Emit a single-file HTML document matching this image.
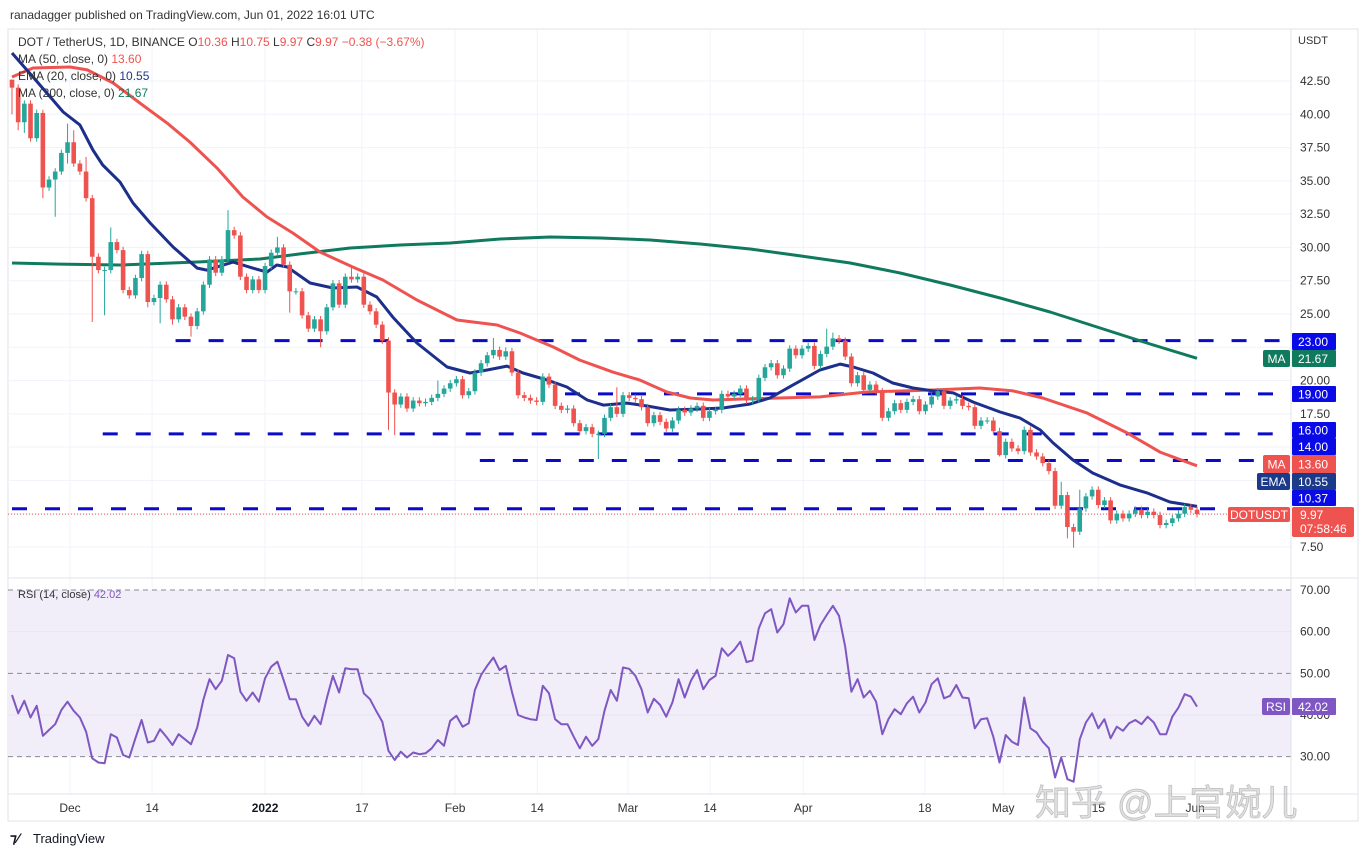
<!DOCTYPE html>
<html><head><meta charset="utf-8"><style>
html,body{margin:0;padding:0;background:#fff;}
svg{display:block;font-family:"Liberation Sans","Noto Sans CJK SC",sans-serif;}
</style></head><body>
<svg id="chart" xmlns="http://www.w3.org/2000/svg" width="1369" height="857" viewBox="0 0 1369 857">
<rect x="0" y="0" width="1369" height="857" fill="#ffffff"/>
<text x="10" y="19" font-size="12" fill="#333">ranadagger published on TradingView.com, Jun 01, 2022 16:01 UTC</text>
<rect x="8" y="29" width="1350" height="792" fill="none" stroke="#e0e3eb"/>
<rect x="8" y="578" width="1283" height="212" fill="none"/>
<g id="grid"></g>
<g id="rsiG"></g>
<g id="levels"></g>
<g id="mas"></g>
<g id="candles"></g>
<g id="axis"></g>
<line x1="8" y1="578" x2="1358" y2="578" stroke="#e0e3eb"/>
<line x1="8" y1="794" x2="1358" y2="794" stroke="#e0e3eb"/>
<line x1="1291" y1="29" x2="1291" y2="821" stroke="#e0e3eb"/>
<g id="timeAxis"></g>
<g font-size="12">
<text x="18" y="46" fill="#333">DOT / TetherUS, 1D, BINANCE  <tspan fill="#333">O</tspan><tspan fill="#ef5350">10.36</tspan>  <tspan fill="#333">H</tspan><tspan fill="#ef5350">10.75</tspan>  <tspan fill="#333">L</tspan><tspan fill="#ef5350">9.97</tspan>  <tspan fill="#333">C</tspan><tspan fill="#ef5350">9.97  −0.38 (−3.67%)</tspan></text>
<text x="18" y="63" fill="#333">MA (50, close, 0)  <tspan fill="#ef5350">13.60</tspan></text>
<text x="18" y="80" fill="#333">EMA (20, close, 0)  <tspan fill="#1c3a8a">10.55</tspan></text>
<text x="18" y="97" fill="#333">MA (200, close, 0)  <tspan fill="#107a5e">21.67</tspan></text>
<text x="18" y="598" fill="#333" font-size="11">RSI (14, close)  <tspan fill="#7e57c2">42.02</tspan></text>
</g>
<text x="1298" y="44" font-size="11" fill="#333">USDT</text>
<text x="1035" y="815" font-size="36" fill="rgba(200,200,200,0.55)" stroke="rgba(120,120,120,0.4)" stroke-width="0.8">知乎 @上官婉儿</text>
<g>
<text x="10" y="843" font-size="14" font-weight="bold" fill="#131722">⁊⁄</text>
<text x="33" y="843" font-size="13" fill="#131722">TradingView</text>
</g>
</svg>
<script>
const closes=[42.0,39.4,40.8,38.2,40.1,34.5,35.1,35.7,37.1,37.9,
36.3,35.7,33.7,29.3,28.3,28.3,30.4,29.8,26.8,26.4,
27.7,29.5,25.9,26.2,27.2,26.1,24.6,25.5,24.8,24.1,
25.2,27.2,29.1,28.1,29.1,31.3,30.9,27.8,26.8,27.6,
26.8,28.6,29.6,30.0,28.7,26.7,26.7,24.9,23.9,24.6,
23.7,25.5,27.3,25.7,27.8,27.6,27.8,25.7,25.2,24.2,
23.0,
19.1,18.2,18.8,17.9,18.5,18.3,18.4,18.7,19.0,19.4,
19.8,20.1,18.9,19.2,20.6,21.3,21.9,22.3,21.8,22.2,
20.6,18.9,18.7,18.5,18.4,20.3,19.7,18.1,17.8,17.9,
16.8,16.2,16.5,16.0,16.0,17.2,18.0,17.5,18.9,18.7,
18.6,18.0,16.8,17.4,16.9,16.4,17.0,
17.8,17.6,17.9,18.1,17.2,17.7,17.8,19.0,18.8,19.0,19.4,18.5,18.6,20.2,21.0,21.3,20.4,20.9,22.4,21.9,22.4,22.6,21.1,22.0,
22.55,23.17,23.0,21.8,19.8,20.4,19.3,19.7,19.2,17.2,
17.7,18.3,17.8,18.4,18.6,17.7,18.2,18.8,19.2,18.1,
18.5,18.6,18.1,18.0,16.6,17.0,17.0,16.2,14.4,15.4,
14.9,14.7,16.3,14.6,14.3,13.8,13.2,10.6,11.4,9.0,
8.65,10.4,11.3,11.8,10.65,11.0,9.5,10.0,9.65,10.0,
10.3,9.9,10.15,9.9,9.15,9.3,9.65,10.0,10.5,10.3,
9.97];
const firstOpen=42.6;
const wickIdx=[0,1,2,5,7,9,10,12,13,15,16,22,24,26,29,35,43,45,50,55,61,62,69,78,80,95,98,132,133,160,170,171,172,173];
const wickHigh=[42.6,null,null,null,null,39.3,38.8,36.8,null,null,31.5,null,null,null,null,32.8,30.8,null,null,28.5,null,null,20.0,23.2,22.5,null,19.5,23.9,23.6,null,12.4,null,null,11.8];
const wickLow=[40.0,38.8,38.6,33.7,32.3,36.3,null,null,24.4,24.9,null,25.5,24.3,24.2,23.3,null,null,25.1,22.5,null,16.3,15.9,null,null,null,14.1,null,null,null,14.3,null,8.15,7.45,null];
const ema20Idx=[0,3.4,6.2,8.3,11,13.1,14.7,17.5,19.6,22.4,26.1,30,31.6,35.8,39,41.3,42.9,44.6,48.3,52,55.9,59.1,61.7,65.6,70.5,74.2,77,80.2,82.8,86.7,89.9,93.2,95.8,99.6,102.9,106.6,111,115.2,119.6,122.8,126.5,130.9,134.2,136.3,139.5,142.7,146,149.2,152.5,155.7,160.1,163.3,166.6,168.7,171.9,175.1,179.5,183.9,187.6,192];
const ema20Val=[44.6,42.8,41.3,40.17,39.2,37.32,36.19,34.91,33.34,31.83,30.03,28.45,28.3,28.9,28.45,28.15,28.68,28.53,27.33,26.95,27.03,26.28,24.77,22.82,21.02,20.57,20.79,21.09,20.57,20.04,19.52,18.54,18.16,18.31,18.09,17.79,17.86,17.94,18.24,18.69,19.66,20.79,21.24,21.02,20.57,19.82,19.44,19.22,19.07,18.39,17.64,17.19,16.29,15.31,14.03,13.06,12.16,11.56,10.88,10.55];
const ma50Idx=[0,3.4,9.4,12.2,16.4,20.7,25.1,28.8,33.2,37.4,41.3,45.5,49.9,55.2,60.1,65.6,72.1,78.6,82.3,87.7,92,97.4,101.7,106.1,109.9,113.6,119.1,124.4,130.9,138.5,149.2,156.8,162.2,167,174.2,180.7,186,192];
const ma50Val=[42.8,43.48,43.55,43.33,42.35,40.85,39.35,37.92,35.97,33.79,32.29,31.08,29.66,28.53,27.55,26.05,24.55,24.17,23.57,22.52,21.54,20.63,20.04,19.14,18.69,18.54,18.62,18.69,18.77,19.14,19.29,19.44,19.22,18.69,17.56,16.06,14.63,13.6];
const ma200Idx=[0,7.8,17.5,30.5,40.2,46.7,54.8,62.9,71,79.1,87.2,95.3,103.4,111.5,119.6,127.7,135.8,143.9,152,160.1,168.2,176.3,184.4,192];
const ma200Val=[28.83,28.75,28.68,28.91,29.13,29.51,29.96,30.18,30.33,30.63,30.78,30.71,30.56,30.26,29.88,29.36,28.83,28.08,27.18,26.2,25.15,23.95,22.75,21.67];
const rsiVals=[44.8,40.4,43.4,39.4,42.2,35.0,36.4,37.8,41.2,43.2,
41.0,39.4,36.0,29.6,28.6,28.4,35.4,34.6,30.4,29.8,
34.4,38.8,33.4,33.8,36.6,34.8,32.8,35.4,34.2,33.0,
37.0,43.6,48.6,46.2,48.2,54.4,53.6,45.6,43.4,45.4,
43.2,48.8,51.6,52.8,48.4,43.8,43.8,39.6,37.4,39.8,
37.8,44.0,49.4,45.4,51.2,51.0,51.0,45.2,43.8,41.0,
38.4,31.4,29.2,31.2,29.8,31.0,30.6,30.8,32.0,34.0,
32.6,38.6,39.8,37.2,38.0,46.0,49.6,51.8,53.8,50.8,
51.8,45.6,40.0,39.4,39.0,38.8,47.0,45.2,39.0,37.8,
37.8,34.8,32.0,34.8,32.6,34.2,41.0,46.0,43.4,
51.4,51.1,49.4,46.2,40.6,43.9,42.4,39.6,43.0,48.6,
44.2,48.2,50.8,46.2,48.4,49.4,56.0,54.2,55.6,57.6,
52.7,53.1,60.8,64.4,65.4,59.8,61.8,68.0,64.6,66.2,
66.2,58.0,61.6,64.0,66.2,63.8,56.4,45.6,48.6,44.2,
45.8,43.2,35.4,39.0,41.4,40.2,42.8,44.4,40.6,43.0,
47.4,48.8,44.0,44.6,47.2,44.2,44.0,36.8,39.0,39.2,
34.8,28.6,35.2,33.6,32.8,44.2,36.8,35.8,33.6,32.0,
25.0,29.8,24.6,24.0,34.2,38.2,40.4,36.8,39.0,34.4,
37.2,36.2,38.0,38.8,37.8,39.6,38.2,35.4,35.4,39.6,
41.8,45.0,44.4,42.02];
const priceTicks=[7.5,10,12.5,15,17.5,20,22.5,25,27.5,30,32.5,35,37.5,40,42.5];
const rsiTicks=[70,60,50,40,30];
const levelPrices=[23.0,19.0,16.0,14.0,10.37];
const levelStartIdx=[26.5,89.6,14.7,75.8,0];
const timeLabels=["Dec","14","2022","17","Feb","14","Mar","14","Apr","18","May","15","Jun"];
const timeIdx=[9.4,22.7,41,56.7,71.8,85.1,99.8,113.1,128.2,147.9,160.6,176,191.7];

const NS="http://www.w3.org/2000/svg";
const X0=12, DX=6.172;
function xOf(i){return X0+DX*i;}
function yOf(p){return 81+(42.5-p)*13.314;}
function yRsi(v){return 590+(70-v)*4.167;}
function mk(tag,attrs,parent){const e=document.createElementNS(NS,tag);for(const k in attrs)e.setAttribute(k,attrs[k]);parent.appendChild(e);return e;}
const grid=document.getElementById('grid');
const axis=document.getElementById('axis');
priceTicks.forEach(p=>{
  const l=mk('line',{x1:8,x2:1291,y1:yOf(p),y2:yOf(p),stroke:'#f0f3fa'},grid);
  
  
  const t=mk('text',{x:1300,y:yOf(p)+4,'font-size':12,fill:'#333'},axis);
  t.textContent=p.toFixed(2);
  
  
});
timeLabels.forEach((lab,k)=>{
  const x=xOf(timeIdx[k]);
  const l=mk('line',{x1:x,x2:x,y1:30,y2:794,stroke:'#f0f3fa'},grid);
  
  
  const t=mk('text',{x:x,y:812,'font-size':12,fill:lab==='2022'?'#131722':'#333','text-anchor':'middle','font-weight':lab==='2022'?'bold':'normal'},document.getElementById('timeAxis'));
  t.textContent=lab;
  
  
});
const rg=document.getElementById('rsiG');
const bg=mk('rect',{x:8,y:yRsi(70),width:1283,height:yRsi(30)-yRsi(70),fill:'#f1edf9'},rg);


rsiTicks.forEach(v=>{
  if(v===70||v===50||v===30){
    const l=mk('line',{x1:8,x2:1291,y1:yRsi(v),y2:yRsi(v),stroke:'#8a8a96','stroke-dasharray':'5,4','stroke-width':1},rg);
    
    
  } else {
    const l=mk('line',{x1:8,x2:1291,y1:yRsi(v),y2:yRsi(v),stroke:'#e8e4f2'},rg);
    
    
  }
  const t=mk('text',{x:1300,y:yRsi(v)+4,'font-size':12,fill:'#333'},axis);
  t.textContent=v.toFixed(2);
  
  
});
let rp='';
rsiVals.forEach((v,k)=>{const x=xOf(192*k/(rsiVals.length-1));rp+=(k?'L':'M')+x.toFixed(1)+','+yRsi(v).toFixed(1);});
const rl=mk('path',{d:rp,fill:'none',stroke:'#7e57c2','stroke-width':2,'stroke-linejoin':'round'},rg);


const lv=document.getElementById('levels');
levelPrices.forEach((p,k)=>{
  const l=mk('line',{x1:xOf(levelStartIdx[k]),x2:1282,y1:yOf(p),y2:yOf(p),stroke:'#0a0ac8','stroke-width':3,'stroke-dasharray':'15,18'},lv);
  
  
});
const cur=mk('line',{x1:8,x2:1291,y1:yOf(9.97),y2:yOf(9.97),stroke:'#ef5350','stroke-dasharray':'1,2','stroke-width':1},lv);


const mg=document.getElementById('mas');
function maPath(idx,val){let d='';idx.forEach((i,k)=>{d+=(k?'L':'M')+xOf(i).toFixed(1)+','+yOf(val[k]).toFixed(1);});return d;}
const m200=mk('path',{d:maPath(ma200Idx,ma200Val),fill:'none',stroke:'#107a5e','stroke-width':3,'stroke-linejoin':'round'},mg);


const m50=mk('path',{d:maPath(ma50Idx,ma50Val),fill:'none',stroke:'#ef5350','stroke-width':3,'stroke-linejoin':'round'},mg);


const e20=mk('path',{d:maPath(ema20Idx,ema20Val),fill:'none',stroke:'#1c2f8a','stroke-width':3,'stroke-linejoin':'round'},mg);


const cg=document.getElementById('candles');
closes.forEach((c,i)=>{
  const o=i===0?firstOpen:closes[i-1];
  const up=c>=o;
  const col=up?'#26a69a':'#ef5350';
  let hi=Math.max(o,c)+0.25, lo=Math.min(o,c)-0.25;
  const w=wickIdx.indexOf(i);
  if(w>=0){if(wickHigh[w]!==null)hi=wickHigh[w];if(wickLow[w]!==null)lo=wickLow[w];}
  const x=xOf(i);
  const g=mk('g',{},cg);
  
  
  mk('line',{x1:x,x2:x,y1:yOf(hi),y2:yOf(lo),stroke:col,'stroke-width':1},g);
  const yt=yOf(Math.max(o,c)), yb=yOf(Math.min(o,c));
  mk('rect',{x:x-2.3,y:yt,width:4.6,height:Math.max(1,yb-yt),fill:col},g);
});
function box(y1,y2,fill,text,name){
  const r=mk('rect',{x:1292,y:y1,width:44,height:y2-y1,fill:fill,rx:1},axis);
  
  
  const t=mk('text',{x:1298,y:(y1+y2)/2+4.5,'font-size':12,fill:'#fff'},axis);
  t.textContent=text;
  
  
}
function tag(x1,y1,y2,fill,text,name){
  const r=mk('rect',{x:x1,y:y1,width:1290-x1,height:y2-y1,fill:fill,rx:2},axis);
  
  
  const t=mk('text',{x:(x1+1290)/2,y:(y1+y2)/2+4.5,'font-size':12,fill:'#fff','text-anchor':'middle'},axis);
  t.textContent=text;
  
  
}
box(333,350,'#0a0ae6','23.00','level-23-label');
box(350,367,'#107a5e','21.67','ma200-value-label');
tag(1263,350,367,'#107a5e','MA','ma200-tag');
box(386,402,'#0a0ae6','19.00','level-19-label');
box(422,438,'#0a0ae6','16.00','level-16-label');
box(438,455,'#0a0ae6','14.00','level-14-label');
box(455,473,'#ef5350','13.60','ma50-value-label');
tag(1263,455,473,'#ef5350','MA','ma50-tag');
box(473,490,'#1c3a8a','10.55','ema20-value-label');
tag(1257,473,490,'#1c3a8a','EMA','ema20-tag');
box(490,506,'#0a0ae6','10.37','level-1037-label');
const pr=mk('rect',{x:1292,y:507,width:62,height:30,fill:'#ef5350',rx:2},axis);


const pt1=mk('text',{x:1300,y:519,'font-size':12,fill:'#fff'},axis);pt1.textContent='9.97';


const pt2=mk('text',{x:1300,y:533,'font-size':12,fill:'#fff'},axis);pt2.textContent='07:58:46';


tag(1228,507,522,'#ef5350','DOTUSDT','symbol-tag');
box(698,715,'#7e57c2','42.02','rsi-value-label');
tag(1262,698,715,'#7e57c2','RSI','rsi-tag');
</script>
</body></html>
